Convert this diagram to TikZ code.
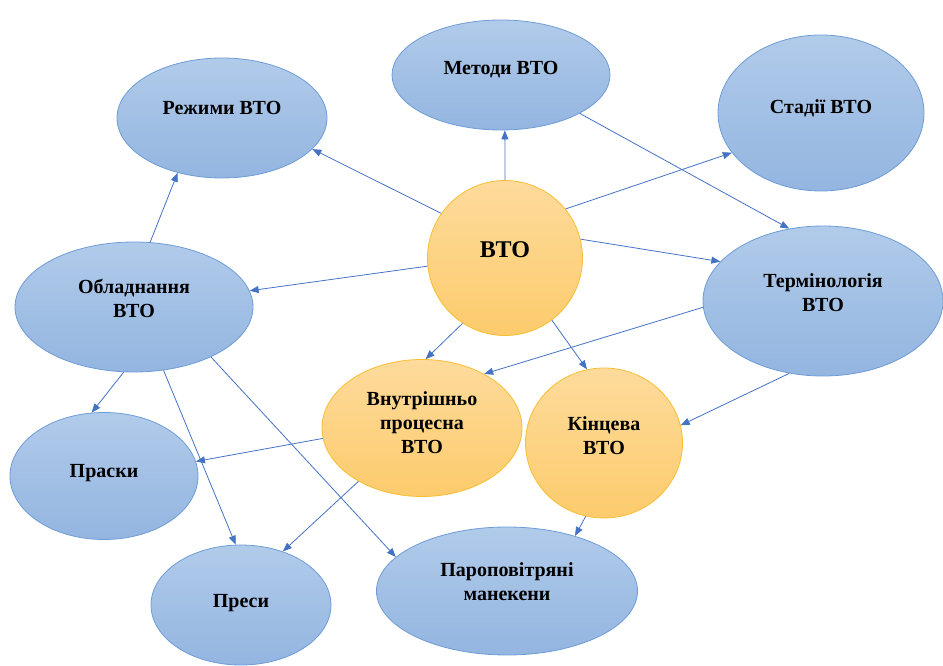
\documentclass[tikz,border=0pt]{standalone}
\usepackage{fontspec}
\setmainfont{Liberation Serif}
\usepackage{tikz}
\usetikzlibrary{arrows.meta}
\usetikzlibrary{shapes.geometric}
\definecolor{blueT}{HTML}{B1CBEA}
\definecolor{blueB}{HTML}{93B5E0}
\definecolor{blueD}{HTML}{6E9CD6}
\definecolor{orT}{HTML}{FEDB9C}
\definecolor{orB}{HTML}{FCCB6C}
\definecolor{orD}{HTML}{F9BE32}
\definecolor{arr}{HTML}{4472C4}
\tikzset{
every node/.style={ellipse, draw, inner sep=0pt, align=center, font=\bfseries\fontsize{20}{24}\selectfont},
bluebox/.style={draw=blueD, line width=0.8pt, top color=blueT, bottom color=blueB},
orbox/.style={draw=orD, line width=0.8pt, top color=orT, bottom color=orB},
conn/.style={draw=arr, line width=0.8pt, -{Triangle[length=9pt,width=7pt]}}
}

\begin{document}
\begin{tikzpicture}[x=1pt,y=-1pt]
\useasboundingbox (0,0) rectangle (943,666);
\node [bluebox, minimum width=210pt, minimum height=120pt, text depth=20pt] (rezhymy) at (222,118) {Режими ВТО};
\node [bluebox, minimum width=218pt, minimum height=110pt, text depth=14pt] (metody) at (501,75) {Методи ВТО};
\node [bluebox, minimum width=206pt, minimum height=156pt, text depth=12pt] (stadii) at (821,113) {Стадії ВТО};
\node [orbox, circle, minimum size=155pt, text depth=16pt, font=\bfseries\fontsize{24}{28}\selectfont] (vto) at (505,258) {ВТО};
\node [bluebox, minimum width=238pt, minimum height=130pt, text depth=18pt] (obl) at (134,307) {Обладнання\\ВТО};
\node [bluebox, minimum width=240pt, minimum height=150pt, text depth=16pt] (term) at (823,301) {Термінологія\\ВТО};
\node [orbox, minimum width=200pt, minimum height=137pt, text depth=10pt] (vnutr) at (422,428) {Внутрішньо\\процесна\\ВТО};
\node [orbox, minimum width=157pt, minimum height=150pt, text depth=14pt] (kinc) at (604,443) {Кінцева\\ВТО};
\node [bluebox, minimum width=188pt, minimum height=127pt, text depth=10pt] (prasky) at (104,476) {Праски};
\node [bluebox, minimum width=180pt, minimum height=120pt, text depth=8pt] (presy) at (241,605) {Преси};
\node [bluebox, minimum width=261pt, minimum height=128pt, text depth=18pt] (manek) at (507,591) {Пароповітряні\\манекени};

\draw[conn] (vto.145) -- (rezhymy.-19);
\draw[conn] (vto.north) -- (metody.-86);
\draw[conn] (vto.39) -- (stadii.-156);
\draw[conn] (vto.14) -- (term.159);
\draw[conn] (vto.186) -- (obl.8);
\draw[conn] (vto.237) -- (vnutr.87);
\draw[conn] (vto.307) -- (kinc.103);
\draw[conn] (metody.-26) -- (term.115);
\draw[conn] (term.183) -- (vnutr.41);
\draw[conn] (term.245) -- (kinc.13);
\draw[conn] (obl.76) -- (rezhymy.231);
\draw[conn] (obl.261) -- (prasky.101);
\draw[conn] (obl.295) -- (presy.95);
\draw[conn] (obl.327) -- (manek.163);
\draw[conn] (vnutr.186) -- (prasky.9);
\draw[conn] (vnutr.220) -- (presy.52);
\draw[conn] (kinc.256) -- (manek.39);
\end{tikzpicture}
\end{document}
